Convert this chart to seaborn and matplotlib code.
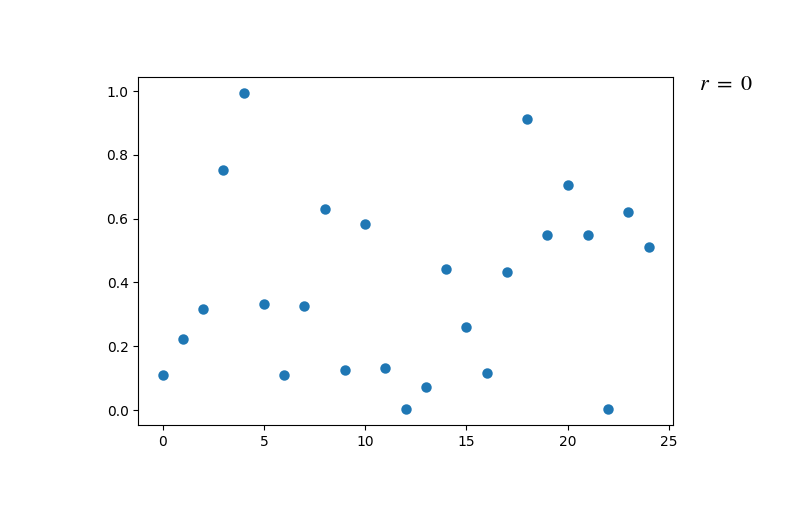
import numpy as np
import matplotlib
matplotlib.use("Agg")
import matplotlib.pyplot as plt
import seaborn as sns

# values
idx = list(range(25))
vals = [0.110, 0.223, 0.317, 0.752, 0.994, 0.332, 0.110, 0.326, 0.630, 0.125,
        0.583, 0.132, 0.003, 0.072, 0.442, 0.260, 0.116, 0.433, 0.912, 0.549,
        0.705, 0.549, 0.003, 0.621, 0.511]
label = r"$r\ =\ 0$"

plt.rcParams['mathtext.fontset'] = 'stix'

fig, ax = plt.subplots(figsize=(8.04, 5.22), dpi=100)
fig.subplots_adjust(left=0.172, right=0.837, top=0.852, bottom=0.186)
sns.scatterplot(x=idx, y=vals, ax=ax, color='#1f77b4', s=36,
                edgecolor='face', linewidth=1.5)
ax.set_yticks([0.0, 0.2, 0.4, 0.6, 0.8, 1.0])
fig.text(0.869, 0.839, label, fontsize=16, va='center', ha='left')
fig.savefig("out.png", dpi=100)
